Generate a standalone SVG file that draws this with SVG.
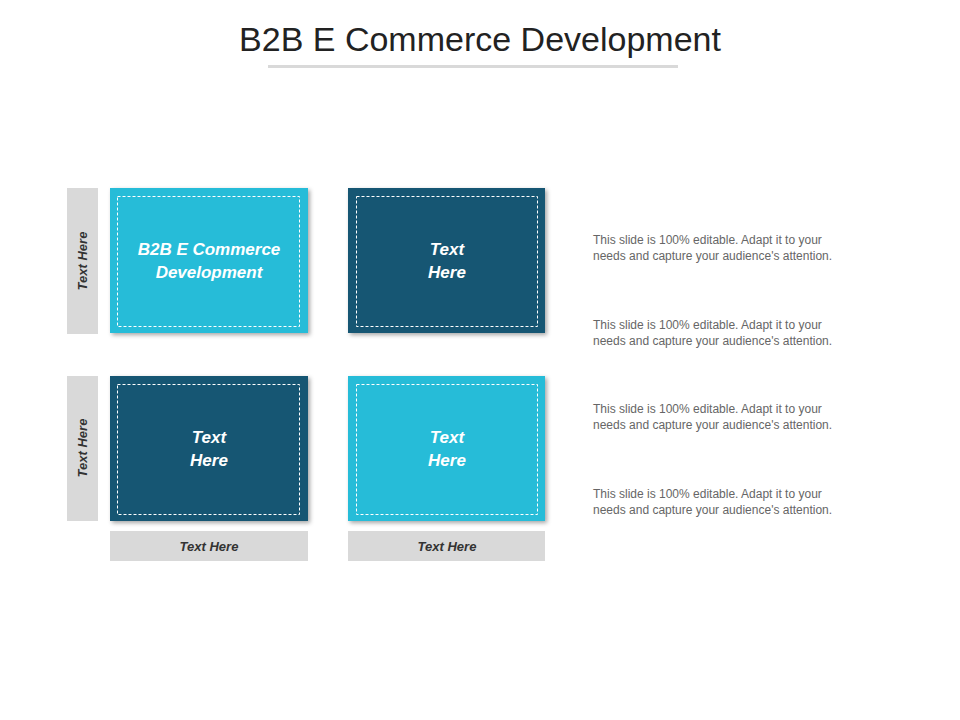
<svg xmlns="http://www.w3.org/2000/svg" width="960" height="720" viewBox="0 0 960 720">
<style>
.t{font-family:"Liberation Sans",Arial,sans-serif}
.box{filter:url(#sh)}
.dash{fill:none;stroke:#fff;stroke-width:1;stroke-dasharray:3,2}
.lt{fill:#27bcd8}.dk{fill:#175673}
.bl{font-family:"Liberation Sans",Arial,sans-serif;font-weight:bold;font-style:italic;font-size:17px;fill:#fff;text-anchor:middle}
.gr{fill:#d9d9d9}
.gt{font-family:"Liberation Sans",Arial,sans-serif;font-weight:bold;font-style:italic;font-size:13px;fill:#333;text-anchor:middle}
.p{font-family:"Liberation Sans",Arial,sans-serif;font-size:12px;fill:#666}
</style>
<defs><filter id="sh" x="-10%" y="-10%" width="125%" height="125%"><feDropShadow dx="2" dy="2" stdDeviation="2" flood-color="#000" flood-opacity="0.35"/></filter></defs>
<rect width="960" height="720" fill="#fff"/>
<text class="t" x="480" y="51" font-size="34" fill="#222" text-anchor="middle">B2B E Commerce Development</text>
<rect x="268" y="65" width="410" height="3" fill="#d9d9d9"/>
<g id="side1"><rect class="gr" x="67" y="188" width="31" height="146"/><text class="gt" transform="translate(87,261) rotate(-90)">Text Here</text></g>
<g id="side2"><rect class="gr" x="67" y="376" width="31" height="145"/><text class="gt" transform="translate(87,448) rotate(-90)">Text Here</text></g>
<g id="n1"><rect class="lt box" x="110" y="188" width="198" height="145"/><rect class="dash" x="117.5" y="196.5" width="182" height="130"/><text class="bl" x="209" y="255">B2B E Commerce</text><text class="bl" x="209" y="278">Development</text></g>
<g id="n2"><rect class="dk box" x="348" y="188" width="197" height="145"/><rect class="dash" x="356.5" y="196.5" width="181" height="130"/><text class="bl" x="447" y="255">Text</text><text class="bl" x="447" y="278">Here</text></g>
<g id="n3"><rect class="dk box" x="110" y="376" width="198" height="145"/><rect class="dash" x="117.5" y="384.5" width="182" height="130"/><text class="bl" x="209" y="443">Text</text><text class="bl" x="209" y="466">Here</text></g>
<g id="n4"><rect class="lt box" x="348" y="376" width="197" height="145"/><rect class="dash" x="356.5" y="384.5" width="181" height="130"/><text class="bl" x="447" y="443">Text</text><text class="bl" x="447" y="466">Here</text></g>
<g id="bot1"><rect class="gr" x="110" y="531" width="198" height="30"/><text class="gt" x="209" y="551">Text Here</text></g>
<g id="bot2"><rect class="gr" x="348" y="531" width="197" height="30"/><text class="gt" x="447" y="551">Text Here</text></g>
<g id="texts">
<text class="p" x="593" y="244">This slide is 100% editable. Adapt it to your</text><text class="p" x="593" y="260">needs and capture your audience's attention.</text>
<text class="p" x="593" y="329">This slide is 100% editable. Adapt it to your</text><text class="p" x="593" y="345">needs and capture your audience's attention.</text>
<text class="p" x="593" y="413">This slide is 100% editable. Adapt it to your</text><text class="p" x="593" y="429">needs and capture your audience's attention.</text>
<text class="p" x="593" y="498">This slide is 100% editable. Adapt it to your</text><text class="p" x="593" y="514">needs and capture your audience's attention.</text>
</g>
<g id="connectors"/>
</svg>
